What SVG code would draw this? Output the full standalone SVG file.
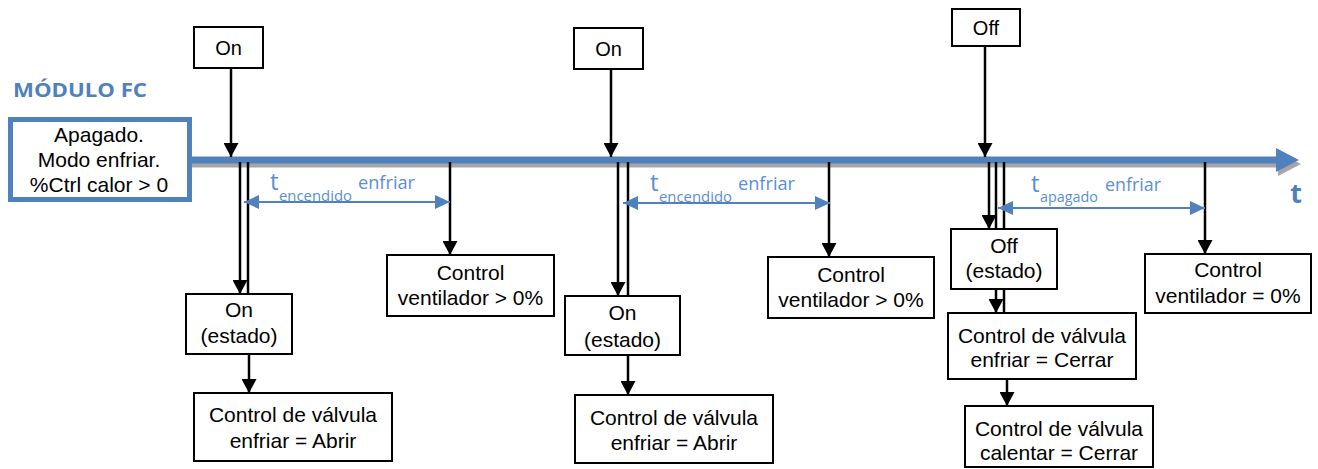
<svg xmlns="http://www.w3.org/2000/svg" width="1318" height="469" viewBox="0 0 1318 469">
<style>
.box{fill:#fff;stroke:#000;stroke-width:2}
.txt{font-family:"Liberation Sans",Arial,sans-serif;font-size:21px;fill:#000;text-anchor:middle}
.top{font-size:20px}
.blk{fill:none;stroke:#000;stroke-width:2.5}
.blu{fill:none;stroke:#4F81BD;stroke-width:2}
.lbl{font-family:"Open Sans",Lato,sans-serif;fill:#5B8FD3}
</style>
<defs>
<marker id="ab" markerUnits="userSpaceOnUse" markerWidth="15" markerHeight="15" refX="14" refY="7.5" orient="auto" viewBox="0 0 15 15">
<path d="M0,0 L14,7.5 L0,15 Z" fill="#000"/>
</marker>
<marker id="bl" markerUnits="userSpaceOnUse" markerWidth="15" markerHeight="14" refX="15" refY="7" orient="auto-start-reverse" viewBox="0 0 15 14">
<path d="M0,0 L15,7 L0,14 Z" fill="#4F81BD"/>
</marker>
</defs>
<rect width="1318" height="469" fill="#fff"/>

<g id="timeline">
<path d="M192,164 H1282" stroke="#A6A6A6" stroke-width="7" fill="none"/>
<polygon points="1278,152 1301,164 1278,176" fill="#A6A6A6"/>
<path d="M192,160 H1280" stroke="#4F81BD" stroke-width="7" fill="none"/>
<polygon points="1276,148 1299,160 1276,172" fill="#4F81BD"/>
<text x="1296" y="203" font-family="'Open Sans',sans-serif" font-weight="bold" font-size="27" fill="#4F81BD" text-anchor="middle">t</text>
</g>

<g id="title">
<text x="13" y="97" font-family="'Open Sans',sans-serif" font-weight="bold" font-size="19" fill="#4F81BD" textLength="134" lengthAdjust="spacingAndGlyphs">MÓDULO FC</text>
</g>

<g id="connectors">
<path class="blk" d="M231,68 V157" marker-end="url(#ab)"/>
<path class="blk" d="M611,69 V157" marker-end="url(#ab)"/>
<path class="blk" d="M985,46 V157" marker-end="url(#ab)"/>

<path class="blk" d="M240,162 V294" marker-end="url(#ab)"/>
<path class="blk" d="M248,162 V294"/>
<path class="blk" d="M450,162 V255" marker-end="url(#ab)"/>
<path class="blk" d="M249,354 V393" marker-end="url(#ab)"/>

<path class="blk" d="M618,162 V296" marker-end="url(#ab)"/>
<path class="blk" d="M628,162 V296"/>
<path class="blk" d="M829,162 V257" marker-end="url(#ab)"/>
<path class="blk" d="M628,355 V395" marker-end="url(#ab)"/>

<path class="blk" d="M989,162 V229" marker-end="url(#ab)"/>
<path class="blk" d="M996,162 V313" marker-end="url(#ab)"/>
<path class="blk" d="M1004,162 V313"/>
<path class="blk" d="M1205,162 V254" marker-end="url(#ab)"/>
<path class="blk" d="M1007,379 V406" marker-end="url(#ab)"/>

<path class="blu" d="M244,202 H450" marker-start="url(#bl)" marker-end="url(#bl)"/>
<path class="blu" d="M623,203 H830" marker-start="url(#bl)" marker-end="url(#bl)"/>
<path class="blu" d="M998,208 H1205" marker-start="url(#bl)" marker-end="url(#bl)"/>
</g>

<g id="labels">
<text class="lbl" x="270" y="190" font-size="24">t</text>
<text class="lbl" x="279" y="201" font-size="15" textLength="73" lengthAdjust="spacingAndGlyphs">encendido</text>
<text class="lbl" x="358" y="189" font-size="18" textLength="57" lengthAdjust="spacingAndGlyphs">enfriar</text>
<text class="lbl" x="650" y="191" font-size="24">t</text>
<text class="lbl" x="659" y="202" font-size="15" textLength="73" lengthAdjust="spacingAndGlyphs">encendido</text>
<text class="lbl" x="738" y="190" font-size="18" textLength="57" lengthAdjust="spacingAndGlyphs">enfriar</text>
<text class="lbl" x="1031" y="192" font-size="24">t</text>
<text class="lbl" x="1040" y="202" font-size="15" textLength="58" lengthAdjust="spacingAndGlyphs">apagado</text>
<text class="lbl" x="1105" y="191" font-size="18" textLength="56" lengthAdjust="spacingAndGlyphs">enfriar</text>
</g>

<g id="modulo">
<rect x="10.5" y="119.5" width="179" height="80" fill="#fff" stroke="#4F81BD" stroke-width="5"/>
<text class="txt" x="99" y="142">Apagado.</text>
<text class="txt" x="99" y="167">Modo enfriar.</text>
<text class="txt" x="99" y="192">%Ctrl calor &gt; 0</text>
</g>

<g id="on1"><rect class="box" x="194" y="27" width="69" height="41"/><text class="txt top" x="228.5" y="55">On</text></g>
<g id="estado1"><rect class="box" x="186" y="294" width="106" height="60"/><text class="txt" x="239" y="317">On</text><text class="txt" x="239" y="343">(estado)</text></g>
<g id="valvula1"><rect class="box" x="194" y="393" width="198" height="68"/><text class="txt" x="293" y="422">Control de válvula</text><text class="txt" x="293" y="448">enfriar = Abrir</text></g>
<g id="ventilador1"><rect class="box" x="387" y="255" width="167" height="61"/><text class="txt" x="470.5" y="280">Control</text><text class="txt" x="470.5" y="305">ventilador &gt; 0%</text></g>

<g id="on2"><rect class="box" x="574" y="28" width="69" height="41"/><text class="txt top" x="608.5" y="56">On</text></g>
<g id="estado2"><rect class="box" x="565" y="296" width="115" height="59"/><text class="txt" x="622.5" y="320">On</text><text class="txt" x="622.5" y="347">(estado)</text></g>
<g id="valvula2"><rect class="box" x="575" y="395" width="198" height="68"/><text class="txt" x="674" y="425">Control de válvula</text><text class="txt" x="674" y="450">enfriar = Abrir</text></g>
<g id="ventilador2"><rect class="box" x="768" y="257" width="166" height="61"/><text class="txt" x="851" y="282">Control</text><text class="txt" x="851" y="307">ventilador &gt; 0%</text></g>

<g id="off"><rect class="box" x="952" y="9" width="68" height="37"/><text class="txt top" x="986" y="35">Off</text></g>
<g id="estado3"><rect class="box" x="951" y="229" width="106" height="60"/><text class="txt" x="1004" y="253">Off</text><text class="txt" x="1004" y="278">(estado)</text></g>
<g id="valvula3"><rect class="box" x="948" y="313" width="188" height="66"/><text class="txt" x="1042" y="343">Control de válvula</text><text class="txt" x="1042" y="367">enfriar = Cerrar</text></g>
<g id="valvula4"><rect class="box" x="965" y="406" width="188" height="61"/><text class="txt" x="1059" y="436">Control de válvula</text><text class="txt" x="1059" y="460">calentar = Cerrar</text></g>
<g id="ventilador3"><rect class="box" x="1145" y="254" width="166" height="59"/><text class="txt" x="1228" y="277">Control</text><text class="txt" x="1228" y="303">ventilador = 0%</text></g>
</svg>
